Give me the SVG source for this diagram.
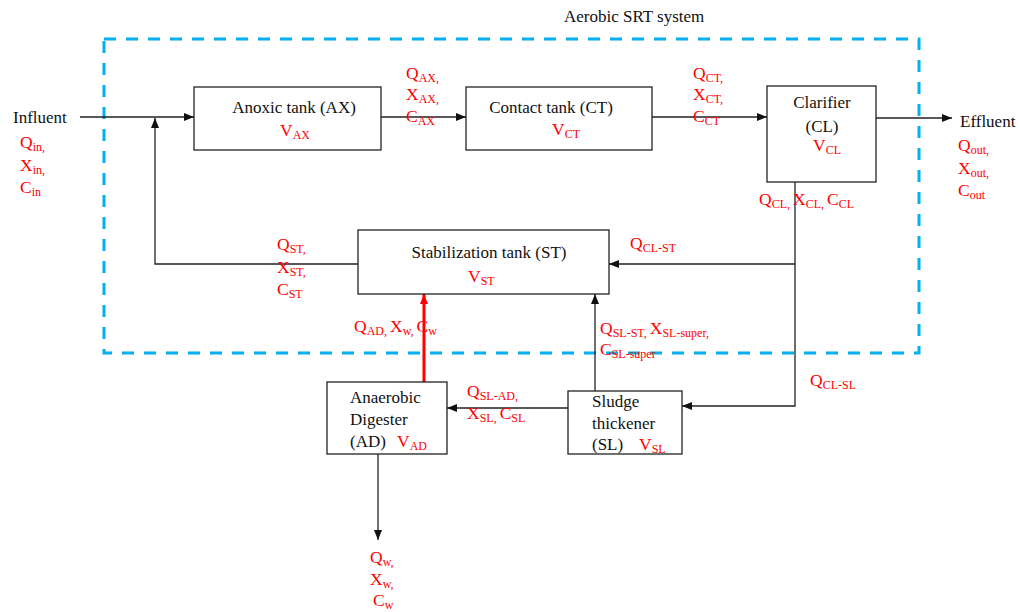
<svg xmlns="http://www.w3.org/2000/svg" width="1020" height="612" viewBox="0 0 1020 612">
<style>
.box{fill:#fff;stroke:#222;stroke-width:1.3}
.t{font-family:"Liberation Serif","Times New Roman",serif;font-size:17px;fill:#111}
.r{font-family:"Liberation Serif","Times New Roman",serif;font-size:17.5px;fill:#ff0000}
.s{font-size:12px}
.ln{fill:none;stroke:#222;stroke-width:1.3}
.red{fill:none;stroke:#ff0000;stroke-width:3}
.dash{fill:none;stroke:#00b0f0;stroke-width:3;stroke-dasharray:12 10}
</style>
<defs>
<marker id="ah" markerUnits="userSpaceOnUse" markerWidth="10" markerHeight="10" viewBox="0 0 10 10" refX="10" refY="5" orient="auto">
<path d="M0,1 L10,5 L0,9 Z" fill="#111"/>
</marker>
<marker id="ahr" markerUnits="userSpaceOnUse" markerWidth="10" markerHeight="10" viewBox="0 0 10 10" refX="10" refY="5" orient="auto">
<path d="M0,1 L10,5 L0,9 Z" fill="#ff0000"/>
</marker>
</defs>
<rect x="0" y="0" width="1020" height="612" fill="#fff"/>

<g id="system-boundary">
<rect class="dash" x="104" y="39" width="815" height="314"/>
<text class="t" x="564" y="22">Aerobic SRT system</text>
</g>

<g id="connectors">
<path class="ln" d="M80,117 H194" marker-end="url(#ah)"/>
<path class="ln" d="M358,264 H155 V118" marker-end="url(#ah)"/>
<path class="ln" d="M381,117 H466" marker-end="url(#ah)"/>
<path class="ln" d="M652,117 H767" marker-end="url(#ah)"/>
<path class="ln" d="M876,118 H952" marker-end="url(#ah)"/>
<path class="ln" d="M795,182 V406 H682" marker-end="url(#ah)"/>
<path class="ln" d="M795,264 H609" marker-end="url(#ah)"/>
<path class="ln" d="M595,391 V294" marker-end="url(#ah)"/>
<path class="red" d="M424,382 V294" marker-end="url(#ahr)"/>
<path class="ln" d="M568,408 H447" marker-end="url(#ah)"/>
<path class="ln" d="M378,454 V540" marker-end="url(#ah)"/>
</g>

<g id="influent">
<text class="t" x="13" y="123">Influent</text>
<text class="r" x="20" y="148">Q<tspan class="s" dy="3">in,</tspan></text>
<text class="r" x="20" y="171">X<tspan class="s" dy="3">in,</tspan></text>
<text class="r" x="20" y="193">C<tspan class="s" dy="3">in</tspan></text>
</g>

<g id="anoxic-tank">
<rect class="box" x="194" y="87" width="187" height="63"/>
<text class="t" x="294" y="113" text-anchor="middle">Anoxic tank (AX)</text>
<text class="r" x="280" y="136">V<tspan class="s" dy="3">AX</tspan></text>
</g>

<g id="ax-labels">
<text class="r" x="406" y="79">Q<tspan class="s" dy="3">AX,</tspan></text>
<text class="r" x="406" y="100">X<tspan class="s" dy="3">AX,</tspan></text>
<text class="r" x="406" y="122">C<tspan class="s" dy="3">AX</tspan></text>
</g>

<g id="contact-tank">
<rect class="box" x="466" y="87" width="186" height="63"/>
<text class="t" x="551" y="113" text-anchor="middle">Contact tank (CT)</text>
<text class="r" x="552" y="135">V<tspan class="s" dy="3">CT</tspan></text>
</g>

<g id="ct-labels">
<text class="r" x="693" y="79">Q<tspan class="s" dy="3">CT,</tspan></text>
<text class="r" x="693" y="100">X<tspan class="s" dy="3">CT,</tspan></text>
<text class="r" x="693" y="122">C<tspan class="s" dy="3">CT</tspan></text>
</g>

<g id="clarifier">
<rect class="box" x="767" y="86" width="109" height="96"/>
<text class="t" x="822" y="108" text-anchor="middle">Clarifier</text>
<text class="t" x="822" y="132" text-anchor="middle">(CL)</text>
<text class="r" x="813" y="151">V<tspan class="s" dy="3">CL</tspan></text>
</g>

<g id="effluent">
<text class="t" x="960" y="127">Effluent</text>
<text class="r" x="958" y="151">Q<tspan class="s" dy="3">out,</tspan></text>
<text class="r" x="958" y="174">X<tspan class="s" dy="3">out,</tspan></text>
<text class="r" x="958" y="196">C<tspan class="s" dy="3">out</tspan></text>
</g>

<g id="cl-labels">
<text class="r" x="759" y="205">Q<tspan class="s" dy="3">CL, </tspan><tspan dy="-3">X</tspan><tspan class="s" dy="3">CL, </tspan><tspan dy="-3">C</tspan><tspan class="s" dy="3">CL</tspan></text>
<text class="r" x="630" y="249">Q<tspan class="s" dy="3">CL-ST</tspan></text>
<text class="r" x="810" y="386">Q<tspan class="s" dy="3">CL-SL</tspan></text>
</g>

<g id="stabilization-tank">
<rect class="box" x="358" y="230" width="251" height="64"/>
<text class="t" x="489" y="258" text-anchor="middle">Stabilization tank (ST)</text>
<text class="r" x="468" y="282">V<tspan class="s" dy="3">ST</tspan></text>
</g>

<g id="st-labels">
<text class="r" x="277" y="250">Q<tspan class="s" dy="3">ST,</tspan></text>
<text class="r" x="277" y="273">X<tspan class="s" dy="3">ST,</tspan></text>
<text class="r" x="277" y="295">C<tspan class="s" dy="3">ST</tspan></text>
</g>

<g id="ad-st-labels">
<text class="r" x="354" y="332">Q<tspan class="s" dy="3">AD, </tspan><tspan dy="-3">X</tspan><tspan class="s" dy="3">w, </tspan><tspan dy="-3">C</tspan><tspan class="s" dy="3">w</tspan></text>
</g>

<g id="sl-st-labels">
<text class="r" x="600" y="334">Q<tspan class="s" dy="3">SL-ST, </tspan><tspan dy="-3">X</tspan><tspan class="s" dy="3">SL-super,</tspan></text>
<text class="r" x="600" y="355">C<tspan class="s" dy="3">SL-super</tspan></text>
</g>

<g id="anaerobic-digester">
<rect class="box" x="327" y="382" width="120" height="72"/>
<text class="t" x="350" y="403">Anaerobic</text>
<text class="t" x="350" y="425">Digester</text>
<text class="t" x="350" y="447">(AD)</text>
<text class="r" x="397" y="447">V<tspan class="s" dy="3">AD</tspan></text>
</g>

<g id="sl-ad-labels">
<text class="r" x="467" y="397">Q<tspan class="s" dy="3">SL-AD,</tspan></text>
<text class="r" x="467" y="419">X<tspan class="s" dy="3">SL, </tspan><tspan dy="-3">C</tspan><tspan class="s" dy="3">SL</tspan></text>
</g>

<g id="sludge-thickener">
<rect class="box" x="568" y="391" width="114" height="63"/>
<text class="t" x="592" y="407">Sludge</text>
<text class="t" x="592" y="429">thickener</text>
<text class="t" x="592" y="450">(SL)</text>
<text class="r" x="639" y="450">V<tspan class="s" dy="3">SL</tspan></text>
</g>

<g id="waste-labels">
<text class="r" x="370" y="563">Q<tspan class="s" dy="3">w,</tspan></text>
<text class="r" x="370" y="585">X<tspan class="s" dy="3">w,</tspan></text>
<text class="r" x="373" y="606">C<tspan class="s" dy="3">w</tspan></text>
</g>
</svg>
